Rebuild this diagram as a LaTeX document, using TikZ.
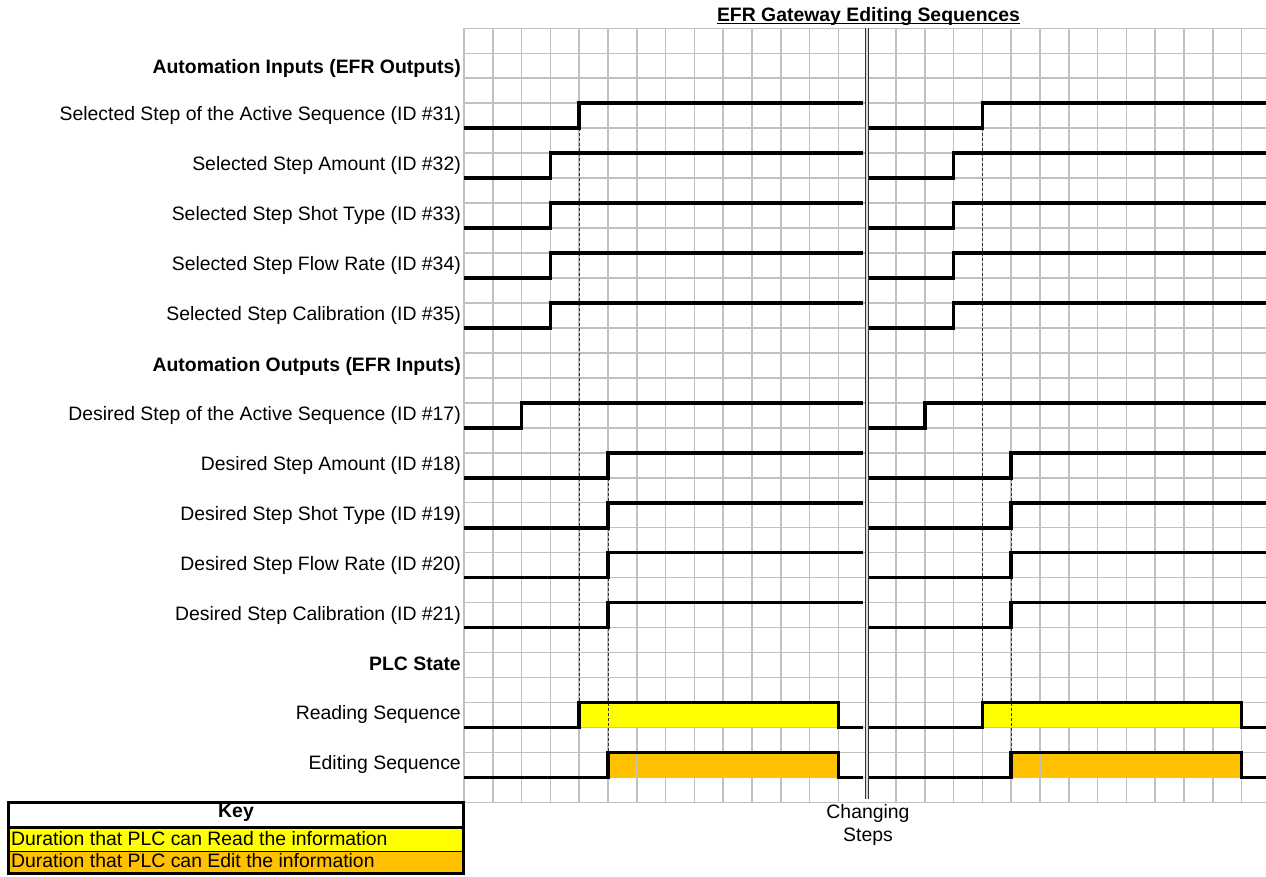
\documentclass[tikz,border=0pt]{standalone}
\usepackage{fontspec}
\setmainfont{Liberation Sans}
\definecolor{gridgray}{HTML}{C0C0C0}
\definecolor{readyellow}{HTML}{FFFF00}
\definecolor{editorange}{HTML}{FFC000}
\newcommand\colx[1]{464+28.8*(#1)}
\newcommand\rowy[1]{28.3+24.97*(#1)}
\newcommand\diagfont{\fontsize{19.4}{23.3}\selectfont}
\tikzset{
  gridline/.style={draw=gridgray, line width=1.5},
  sig/.style={draw=black, line width=3.6},
  guide/.style={draw=black!80, line width=0.9, dash pattern=on 3 off 2},
  lab/.style={anchor=base east, inner sep=0},
  head/.style={anchor=base east, inner sep=0, font=\diagfont\bfseries},
  keytext/.style={anchor=base west, inner sep=0},
}
\begin{document}
\begin{tikzpicture}[x=1pt, y=-1pt, font=\diagfont]
\useasboundingbox (0,0) rectangle (1266,876);
\fill[white] (0,0) rectangle (1266,876);
% grid
\foreach \k in {0,...,31}
  \draw[gridline] ({\colx{0}},{\rowy{\k}}) -- (1266,{\rowy{\k}});
\foreach \c in {0,...,13,15,16,...,27}
  \draw[gridline] ({\colx{\c}},{\rowy{0}}) -- ({\colx{\c}},{\rowy{31}});
% fills of PLC state
\foreach \s in {0,14}{
  \fill[readyellow] ({\colx{4+\s}},{\rowy{27}}) rectangle ({\colx{13+\s}},{\rowy{28}});
  \fill[editorange] ({\colx{5+\s}},{\rowy{29}}) rectangle ({\colx{13+\s}},{\rowy{30}});
  \draw[gridline] ({\colx{6+\s}},{\rowy{29}}) -- ({\colx{6+\s}},{\rowy{30}});
  \draw[gridline] ({\colx{4+\s}},{\rowy{28}}) -- ({\colx{13+\s}},{\rowy{28}});
  \draw[gridline] ({\colx{5+\s}},{\rowy{30}}) -- ({\colx{13+\s}},{\rowy{30}});
}
% guide lines
\foreach \s in {0,14}{
  \draw[guide] ({\colx{4+\s}},{\rowy{4}}) -- ({\colx{4+\s}},{\rowy{27}});
  \draw[guide] ({\colx{5+\s}},{\rowy{18}}) -- ({\colx{5+\s}},{\rowy{29}});
}
% divider
\draw[draw=black!80, double=gray!30, double distance=1.3, line width=1.3] (867,{\rowy{0}}) -- (867,799);
% signals
\foreach \k/\c in {3/4,5/3,7/3,9/3,11/3,15/2,17/5,19/5,21/5,23/5}{
  \draw[sig] ({\colx{0}},{\rowy{\k+1}}) -- ({\colx{\c}},{\rowy{\k+1}}) -- ({\colx{\c}},{\rowy{\k}}) -- (863,{\rowy{\k}});
  \draw[sig] (869,{\rowy{\k+1}}) -- ({\colx{\c+14}},{\rowy{\k+1}}) -- ({\colx{\c+14}},{\rowy{\k}}) -- (1266,{\rowy{\k}});
}
\foreach \k/\c in {27/4,29/5}{
  \draw[sig] ({\colx{0}},{\rowy{\k+1}}) -- ({\colx{\c}},{\rowy{\k+1}}) -- ({\colx{\c}},{\rowy{\k}}) -- ({\colx{13}},{\rowy{\k}}) -- ({\colx{13}},{\rowy{\k+1}}) -- (863,{\rowy{\k+1}});
  \draw[sig] (869,{\rowy{\k+1}}) -- ({\colx{\c+14}},{\rowy{\k+1}}) -- ({\colx{\c+14}},{\rowy{\k}}) -- ({\colx{27}},{\rowy{\k}}) -- ({\colx{27}},{\rowy{\k+1}}) -- (1266,{\rowy{\k+1}});
}
% title
\node[anchor=base, inner sep=0, font=\diagfont\bfseries] (title) at (868.5,21.5) {EFR Gateway Editing Sequences};
\draw[line width=1.4] ([yshift=-2pt]title.base west) -- ([yshift=-2pt]title.base east);
% labels
\node[head] (hin) at (461,{\rowy{2}-5}) {Automation Inputs (EFR Outputs)};
\node[lab] (l31) at (461,{\rowy{4}-7.5}) {Selected Step of the Active Sequence (ID \#31)};
\node[lab] (l32) at (461,{\rowy{6}-7.5}) {Selected Step Amount (ID \#32)};
\node[lab] (l33) at (461,{\rowy{8}-7.5}) {Selected Step Shot Type (ID \#33)};
\node[lab] (l34) at (461,{\rowy{10}-7.5}) {Selected Step Flow Rate (ID \#34)};
\node[lab] (l35) at (461,{\rowy{12}-7.5}) {Selected Step Calibration (ID \#35)};
\node[head] (hout) at (461,{\rowy{14}-6}) {Automation Outputs (EFR Inputs)};
\node[lab] (l17) at (461,{\rowy{16}-7.5}) {Desired Step of the Active Sequence (ID \#17)};
\node[lab] (l18) at (461,{\rowy{18}-7.5}) {Desired Step Amount (ID \#18)};
\node[lab] (l19) at (461,{\rowy{20}-7.5}) {Desired Step Shot Type (ID \#19)};
\node[lab] (l20) at (461,{\rowy{22}-7.5}) {Desired Step Flow Rate (ID \#20)};
\node[lab] (l21) at (461,{\rowy{24}-7.5}) {Desired Step Calibration (ID \#21)};
\node[head] (hplc) at (461,{\rowy{26}-7}) {PLC State};
\node[lab] (lread) at (461,{\rowy{28}-7.5}) {Reading Sequence};
\node[lab] (ledit) at (461,{\rowy{30}-7.5}) {Editing Sequence};
% changing steps
\node[anchor=base, inner sep=0] (chg1) at (868,818.3) {Changing};
\node[anchor=base, inner sep=0] (chg2) at (868,841.7) {Steps};
% key
\fill[white] (8.5,802.5) rectangle (463.5,827);
\fill[readyellow] (8.5,827) rectangle (463.5,851);
\fill[editorange] (8.5,851) rectangle (463.5,873.5);
\draw[line width=1] (8.5,851) -- (463.5,851);
\draw[line width=3] (8.5,827) -- (463.5,827);
\draw[line width=3] (8.5,802.5) rectangle (463.5,873.5);
\node[anchor=base, inner sep=0, font=\diagfont\bfseries] (keyh) at (236,817) {Key};
\node[keytext] (keyr) at (11,845) {Duration that PLC can Read the information};
\node[keytext] (keye) at (11,867.3) {Duration that PLC can Edit the information};
\end{tikzpicture}
\end{document}
